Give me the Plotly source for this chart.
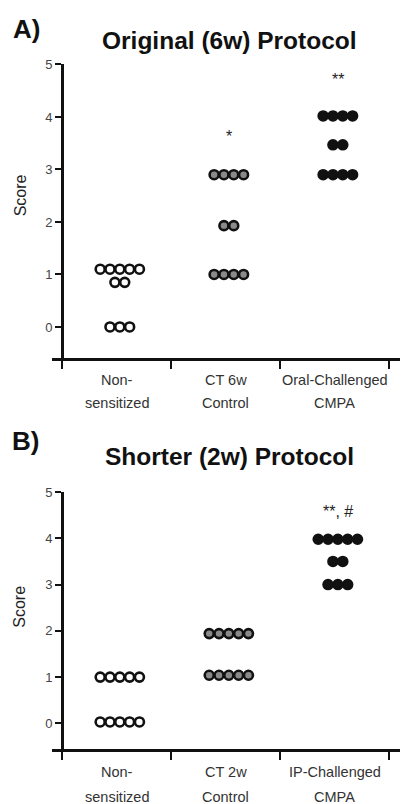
import plotly.graph_objects as go

W, H = 402, 804

# ---- data ----
cat_lines_A = [["Non-", "sensitized"], ["CT 6w", "Control"], ["Oral-Challenged", "CMPA"]]
cat_lines_B = [["Non-", "sensitized"], ["CT 2w", "Control"], ["IP-Challenged", "CMPA"]]

A_non = [1.1, 1.1, 1.1, 1.1, 1.1, 0.85, 0.85, 0.0, 0.0, 0.0]
A_ct = [2.9, 2.9, 2.9, 2.9, 1.93, 1.93, 1.0, 1.0, 1.0, 1.0]
A_cmpa = [4.02, 4.02, 4.02, 4.02, 3.47, 3.47, 2.9, 2.9, 2.9, 2.9]

B_non = [1.0, 1.0, 1.0, 1.0, 1.0, 0.03, 0.03, 0.03, 0.03, 0.03]
B_ct = [1.94, 1.94, 1.94, 1.94, 1.94, 1.04, 1.04, 1.04, 1.04, 1.04]
B_ip = [3.98, 3.98, 3.98, 3.98, 3.98, 3.5, 3.5, 3.0, 3.0, 3.0]

sig_A = ["", "*", "**"]
sig_A_y = [None, 3.62, 4.72]
sig_B = ["", "", "**, #"]
sig_B_y = [None, None, 4.58]

y_ticks = [0, 1, 2, 3, 4, 5]

fills = ["white", "#8a8a8a", "#111111"]

FONT = "Liberation Sans, Arial, sans-serif"


def swarm(vals, center, spacing=0.09):
    rows = {}
    for v in vals:
        rows.setdefault(v, 0)
        rows[v] += 1
    xs, ys = [], []
    for v, n in rows.items():
        for i in range(n):
            xs.append(center + (i - (n - 1) / 2) * spacing)
            ys.append(v)
    return xs, ys


def py(p):
    return 1 - p / H


fig = go.Figure()

panels = [
    (1, [A_non, A_ct, A_cmpa]),
    (2, [B_non, B_ct, B_ip]),
]

for idx, groups in panels:
    xa = "x" if idx == 1 else "x2"
    ya = "y" if idx == 1 else "y2"
    for gi, vals in enumerate(groups):
        xs, ys = swarm(vals, gi + 1 + 0.03)
        fig.add_trace(go.Scatter(
            x=xs, y=ys, mode="markers", xaxis=xa, yaxis=ya,
            marker=dict(size=9, color=fills[gi], line=dict(color="#111111", width=2.6)),
            showlegend=False, hoverinfo="skip"))

axis_x = dict(range=[0.408, 3.60], domain=[52 / W, 400 / W], showline=True, linecolor="#111",
              linewidth=2.6, tickvals=[0.5, 1.5, 2.5, 3.5], ticktext=["", "", "", ""],
              ticks="outside", ticklen=8, tickwidth=2.4, tickcolor="#111",
              showgrid=False, zeroline=False, fixedrange=True)
axis_y = dict(showline=True, linecolor="#111", linewidth=2.6, tickvals=y_ticks,
              ticks="outside", ticklen=6, tickwidth=2, tickcolor="#111",
              tickfont=dict(size=13, color="#444", family=FONT),
              showgrid=False, zeroline=False, anchor="free", position=62 / W, fixedrange=True)

fig.update_layout(
    width=W, height=H, margin=dict(l=0, r=0, t=0, b=0),
    paper_bgcolor="white", plot_bgcolor="white",
    xaxis=dict(axis_x, anchor="y"),
    yaxis=dict(axis_y, range=[-0.59, 5], domain=[py(354), py(58)]),
    xaxis2=dict(axis_x, anchor="y2"),
    yaxis2=dict(axis_y, range=[-0.55, 5], domain=[py(748.3), py(489.3)]),
)

ann = []
# panel letters and titles
for letter, lx, ly, title, ty in [("A)", 26, 22, "Original (6w) Protocol", 34),
                                  ("B)", 25, 438, "Shorter (2w) Protocol", 453)]:
    ann.append(dict(text=letter, x=lx / W, y=py(ly), xref="paper", yref="paper", showarrow=False,
                    xanchor="center", yanchor="middle",
                    font=dict(size=26, family=FONT, color="#111", weight="bold")))
    ann.append(dict(text=title, x=229 / W, y=py(ty), xref="paper", yref="paper", showarrow=False,
                    xanchor="center", yanchor="middle",
                    font=dict(size=24.5, family=FONT, color="#111", weight="bold")))

# y-axis titles
for cy in [190, 605]:
    ann.append(dict(text="Score", x=20 / W, y=py(cy), xref="paper", yref="paper", showarrow=False,
                    xanchor="center", yanchor="middle",
                    textangle=-90, font=dict(size=16, family=FONT, color="#222")))

# category labels
for xa, lines, y1, y2 in [("x", cat_lines_A, 376, 399), ("x2", cat_lines_B, 772, 797)]:
    for gi, (l1, l2) in enumerate(lines):
        for txt, yy in [(l1, y1), (l2, y2)]:
            ann.append(dict(text=txt, x=gi + 1, y=py(yy), xref=xa, yref="paper", showarrow=False,
                            xanchor="center", yanchor="middle",
                            font=dict(size=14.5, family=FONT, color="#333")))

# significance marks
for xa, ya, labels, ys in [("x", "y", sig_A, sig_A_y), ("x2", "y2", sig_B, sig_B_y)]:
    for gi, (t, yv) in enumerate(zip(labels, ys)):
        if t:
            ann.append(dict(text=t, x=gi + 1 + 0.03, y=yv, xref=xa, yref=ya, showarrow=False,
                            xanchor="center", yanchor="middle",
                            font=dict(size=16, family=FONT, color="#222")))

fig.update_layout(annotations=ann)
fig.write_html("out.html", config={"displayModeBar": False},
               post_script="document.body.style.margin='0px';")
